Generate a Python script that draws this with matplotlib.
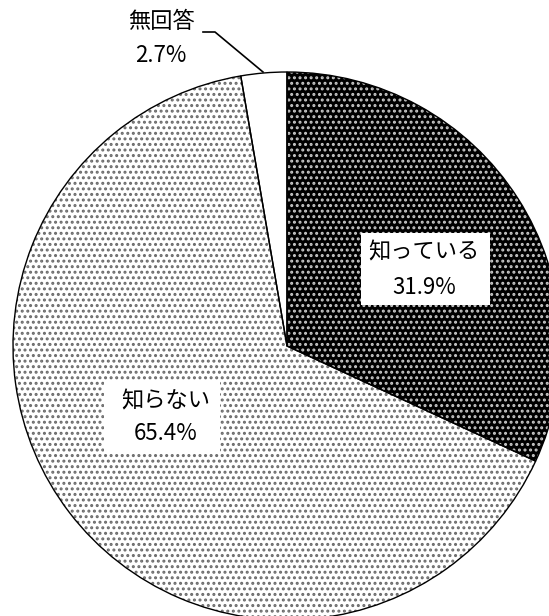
import matplotlib.pyplot as plt
from matplotlib.patches import Rectangle

plt.rcParams['font.family'] = ['Noto Sans CJK JP', 'DejaVu Sans']
plt.rcParams['hatch.linewidth'] = 1.4

labels = ['知っている', '知らない', '無回答']
values = [31.9, 65.4, 2.7]
faces = ['black', 'white', 'white']
hatch_cols = ['#c8c8c8', '#6a6a6a', 'white']
hatches = ['...', '...', '']

W, H = 549, 616
fig = plt.figure(figsize=(W / 100, H / 100), dpi=100)
ax = fig.add_axes([0, 0, 1, 1])

cx, cy, r = 287, H - 346, 274

# fill + hatch
wedges, _ = ax.pie(values, startangle=90, counterclock=False,
                   center=(cx, cy), radius=r, frame=True)
for w, fc, hc, h in zip(wedges, faces, hatch_cols, hatches):
    w.set_facecolor(fc)
    w.set_edgecolor(hc)
    w.set_hatch(h)
    w.set_linewidth(0)

# outlines
ax.pie(values, startangle=90, counterclock=False,
       center=(cx, cy), radius=r, frame=True,
       wedgeprops=dict(fill=False, edgecolor='black', linewidth=1.0))
ax.set_xlim(0, W)
ax.set_ylim(0, H)
ax.set_aspect('equal')
ax.axis('off')

# label boxes (pixel layout)
ax.add_patch(Rectangle((361, H - 305), 129, 72, facecolor='white', edgecolor='none', zorder=3))
ax.add_patch(Rectangle((104, H - 452), 116, 72, facecolor='white', edgecolor='none', zorder=3))

def label(x, y1, y2, name, val):
    ax.text(x, H - y1, name, ha='center', va='center', fontsize=16, zorder=4)
    ax.text(x, H - y2, f'{val}%', ha='center', va='center', fontsize=16, zorder=4)

label(424, 252, 288, labels[0], values[0])
label(166, 401, 434, labels[1], values[1])
label(161, 22, 55, labels[2], values[2])
ax.plot([203, 215, 263], [H - 32, H - 32, H - 72], color='black', lw=1.2)

fig.savefig('out.png', dpi=100)
